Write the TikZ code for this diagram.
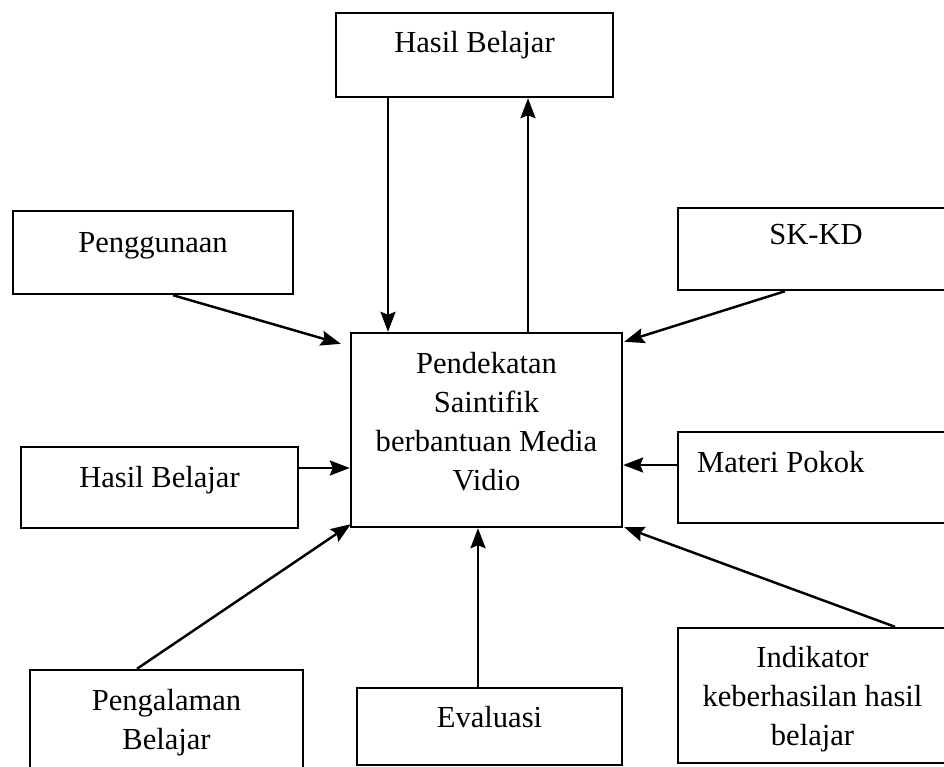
\documentclass[tikz,border=0pt]{standalone}
\usepackage{fontspec}
\setmainfont{Liberation Serif}
\usetikzlibrary{positioning,arrows.meta}

\tikzset{
  kotak/.style={draw, line width=1.4pt, inner sep=0pt},
  teks/.style={inner sep=0pt, align=center, font=\fontsize{17.4pt}{22.2pt}\selectfont},
  panah/.style={-{Stealth[length=4mm,width=3mm,inset=0.6mm]}, line width=1.4pt}
}

\begin{document}
\begin{tikzpicture}[x=0.02cm, y=-0.02cm]
  \useasboundingbox (0,0) rectangle (944,767);
  % kotak-kotak
  \node[kotak, minimum width=5.54cm, minimum height=1.68cm] (hasilAtas) at (474.5,55) {};
  \node[kotak, minimum width=5.6cm, minimum height=1.66cm] (guna) at (153,252.5) {};
  \node[kotak, minimum width=5.52cm, minimum height=1.64cm] (skkd) at (816,249) {};
  \node[kotak, minimum width=5.42cm, minimum height=3.88cm] (pendekatan) at (486.5,430) {};
  \node[kotak, minimum width=5.54cm, minimum height=1.62cm] (hasilKiri) at (159.5,487.5) {};
  \node[kotak, minimum width=5.64cm, minimum height=1.82cm] (materi) at (819,477.5) {};
  \node[kotak, minimum width=5.46cm, minimum height=2.2cm] (pengalaman) at (166.5,725) {};
  \node[kotak, minimum width=5.3cm, minimum height=1.54cm] (evaluasi) at (489.5,726.5) {};
  \node[kotak, minimum width=5.38cm, minimum height=2.7cm] (indikator) at (812.5,695.5) {};
  % tulisan
  \node[teks, below=0.38cm of hasilAtas.north] (hasilAtasT) {Hasil Belajar};
  \node[teks, below=0.44cm of guna.north] (gunaT) {Penggunaan};
  \node[teks, below=0.34cm of skkd.north] (skkdT) {SK-KD};
  \node[teks, below=0.4cm of pendekatan.north] (pendekatanT) {Pendekatan\\Saintifik\\berbantuan Media\\Vidio};
  \node[teks, below=0.4cm of hasilKiri.north] (hasilKiriT) {Hasil Belajar};
  \node[teks, below right=0.4cm and 0.4cm of materi.north west] (materiT) {Materi Pokok};
  \node[teks, below=0.4cm of pengalaman.north] (pengalamanT) {Pengalaman\\Belajar};
  \node[teks, below=0.38cm of evaluasi.north] (evaluasiT) {Evaluasi};
  \node[teks, below=0.38cm of indikator.north] (indikatorT) {Indikator\\keberhasilan hasil\\belajar};
  % panah
  \draw[panah] ([shift={(-86.5,0)}]hasilAtas.south) -- ([shift={(-98.5,0)}]pendekatan.north);
  \draw[panah] ([shift={(41.5,0)}]pendekatan.north) -- ([shift={(53.5,0)}]hasilAtas.south);
  \draw[panah] ([shift={(20,0)}]guna.south) -- ([shift={(-9,12)}]pendekatan.north west);
  \draw[panah] ([shift={(-31,0)}]skkd.south) -- ([shift={(1,10)}]pendekatan.north east);
  \draw[panah] ([shift={(0,-19.5)}]hasilKiri.east) -- ([shift={(0,38)}]pendekatan.west);
  \draw[panah] ([shift={(0,-12.5)}]materi.west) -- ([shift={(0,35)}]pendekatan.east);
  \draw[panah] ([shift={(-29.5,0)}]pengalaman.north) -- ([shift={(1,-4)}]pendekatan.south west);
  \draw[panah] ([shift={(-11.5,0)}]evaluasi.north) -- ([shift={(-8.5,0)}]pendekatan.south);
  \draw[panah] ([shift={(82.5,0)}]indikator.north) -- ([shift={(1,-1)}]pendekatan.south east);
\end{tikzpicture}
\end{document}
